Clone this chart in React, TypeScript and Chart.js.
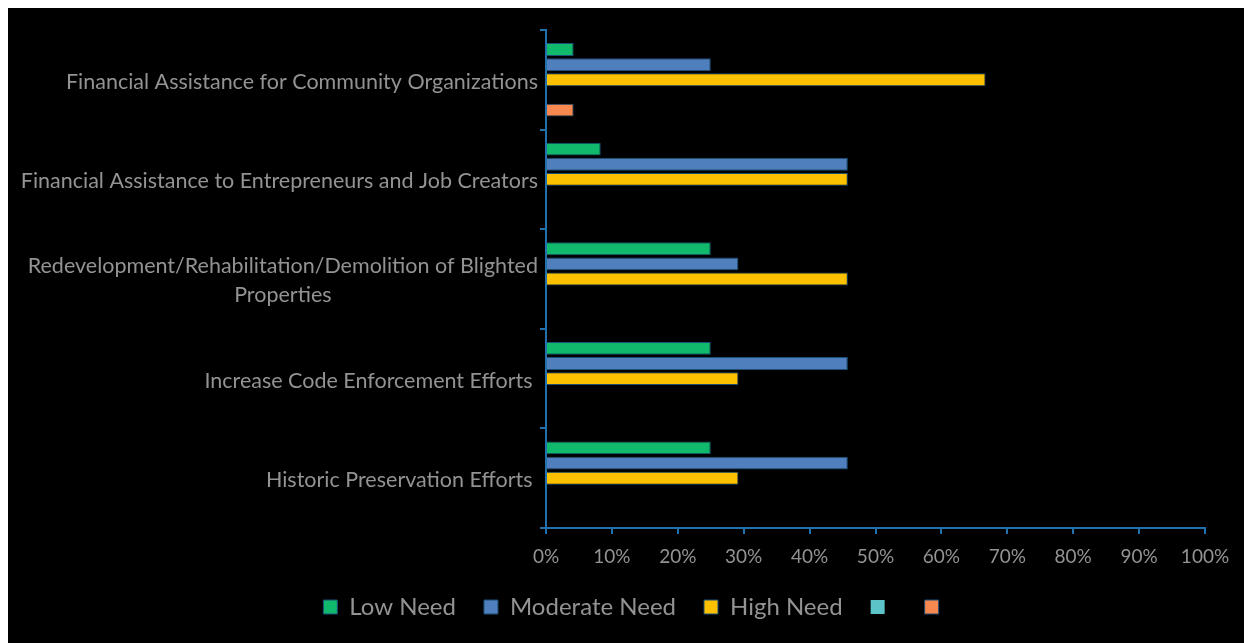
import React, { useEffect, useRef } from "react";
import { Chart, registerables } from "chart.js";

Chart.register(...registerables);

const categories: (string | string[])[] = [
  "Financial Assistance for Community Organizations",
  "Financial Assistance to Entrepreneurs and Job Creators",
  ["Redevelopment/Rehabilitation/Demolition of Blighted", "Properties"],
  "Increase Code Enforcement Efforts ",
  "Historic Preservation Efforts ",
];
const seriesNames = ["Low Need", "Moderate Need", "High Need", "", ""];
const lowNeed = [4.2, 8.3, 25, 25, 25];
const moderateNeed = [25, 45.8, 29.2, 45.8, 45.8];
const highNeed = [66.7, 45.8, 45.8, 29.2, 29.2];
const series4 = [0, 0, 0, 0, 0];
const series5 = [4.2, 0, 0, 0, 0];
const seriesColors = ["#10b96c", "#4f7fbd", "#fdc100", "#5cc3c9", "#f7884f"];
const xMax = 100;
const xStep = 10;

const FONT = "Lato";
const TEXT = "#939393";
const AXIS = "#2271ad";
const Y_FONT_SIZE = 21.5;

const yLabelPlugin = {
  id: "yLabels",
  afterDraw(chart: any) {
    const s = chart.scales.y;
    const ctx = chart.ctx;
    ctx.save();
    ctx.font = `${Y_FONT_SIZE}px ${FONT}`;
    ctx.fillStyle = TEXT;
    ctx.textAlign = "center";
    ctx.textBaseline = "middle";
    const right = s.right - 8;
    const lh = 29;
    categories.forEach((lab, i) => {
      const lines = Array.isArray(lab) ? lab : [lab];
      const w = Math.max(...lines.map((l) => ctx.measureText(l).width));
      const cx = right - w / 2;
      const yc = s.getPixelForTick(i) + 2;
      lines.forEach((l, j) => {
        const y = yc + (j - (lines.length - 1) / 2) * lh;
        ctx.fillText(l, cx, y);
      });
    });
    ctx.restore();
  },
};

export default function App() {
  const ref = useRef<HTMLCanvasElement | null>(null);
  useEffect(() => {
    document.documentElement.style.overflow = "hidden";
    document.body.style.overflow = "hidden";
    const values = [lowNeed, moderateNeed, highNeed, series4, series5];
    const chart = new Chart(ref.current as HTMLCanvasElement, {
      type: "bar",
      data: {
        labels: categories,
        datasets: values.map((v, i) => ({
          label: seriesNames[i],
          data: v,
          backgroundColor: seriesColors[i],
          borderColor: "#1d4f76",
          borderWidth: (c: any) => (c.raw ? 1 : 0),
          categoryPercentage: 0.76,
          barPercentage: 0.85,
        })),
      },
      options: {
        indexAxis: "y",
        animation: false,
        responsive: true,
        maintainAspectRatio: false,
        layout: { padding: { left: 14, right: 0, top: 22, bottom: 14 } },
        plugins: {
          tooltip: { enabled: false },
          legend: {
            position: "bottom",
            labels: {
              color: TEXT,
              font: { family: FONT, size: 24 },
              boxWidth: 14,
              boxHeight: 14,
              padding: 28,
            },
          },
        },
        scales: {
          x: {
            min: 0,
            max: xMax,
            ticks: {
              stepSize: xStep,
              color: TEXT,
              font: { family: FONT, size: 19 },
              padding: 11,
              callback: (v: any) => `${v}%`,
            },
            grid: {
              drawOnChartArea: false,
              drawTicks: true,
              tickLength: 6,
              color: AXIS,
              lineWidth: 2,
            },
            border: { color: AXIS, width: 2 },
            afterFit: (s: any) => {
              s.height = 39;
              s.paddingRight = 47;
            },
          },
          y: {
            ticks: { color: "rgba(0,0,0,0)", font: { family: FONT, size: 19 } },
            grid: {
              offset: true,
              drawOnChartArea: false,
              tickLength: 6,
              color: AXIS,
              lineWidth: 2,
            },
            border: { color: AXIS, width: 2 },
            afterFit: (s: any) => {
              s.width = 524;
            },
          },
        },
      },
      plugins: [yLabelPlugin],
    });
    return () => chart.destroy();
  }, []);
  return (
    <div style={{ position: "relative", width: 1244, height: 635, background: "#000" }}>
      <canvas ref={ref} />
    </div>
  );
}
